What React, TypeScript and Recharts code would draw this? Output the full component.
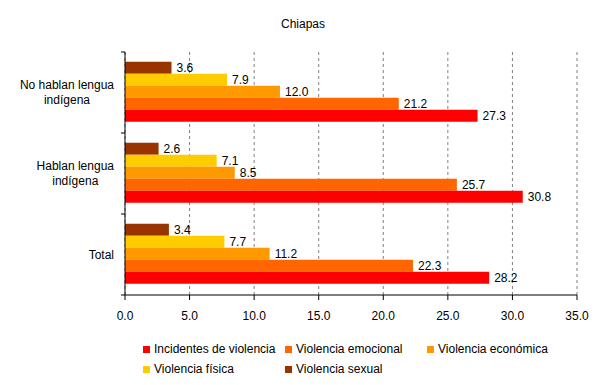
import React from 'react';
import { BarChart, Bar, XAxis, YAxis, CartesianGrid, LabelList } from 'recharts';

const categories = ['No hablan lengua indígena', 'Hablan lengua indígena', 'Total'];
const categoryLines = [['No hablan lengua', 'indígena'], ['Hablan lengua', 'indígena'], ['Total']];

const incidentes = [27.3, 30.8, 28.2];
const emocional = [21.2, 25.7, 22.3];
const economica = [12.0, 8.5, 11.2];
const fisica = [7.9, 7.1, 7.7];
const sexual = [3.6, 2.6, 3.4];

const xTicks = [0, 5, 10, 15, 20, 25, 30, 35];

// legend order; bars are drawn in reverse so "sexual" sits on top of each group
const series = [
  { key: 'incidentes', name: 'Incidentes de violencia', color: '#FF0000' },
  { key: 'emocional', name: 'Violencia emocional', color: '#FF6600' },
  { key: 'economica', name: 'Violencia económica', color: '#FF9900' },
  { key: 'fisica', name: 'Violencia física', color: '#FFCC00' },
  { key: 'sexual', name: 'Violencia sexual', color: '#993300' },
];

const data = categories.map((name, i) => ({
  name,
  incidentes: incidentes[i],
  emocional: emocional[i],
  economica: economica[i],
  fisica: fisica[i],
  sexual: sexual[i],
}));

const FONT = "'Liberation Sans', Arial, sans-serif";

let measureCtx: CanvasRenderingContext2D | null = null;
const textWidth = (s: string) => {
  if (!measureCtx) {
    measureCtx = document.createElement('canvas').getContext('2d');
    if (measureCtx) measureCtx.font = `12px ${FONT}`;
  }
  return measureCtx ? measureCtx.measureText(s).width : s.length * 6.5;
};

const CategoryTick = (props: any) => {
  const { x, y, payload, index, visibleTicksCount } = props;
  const idx = categories.indexOf(payload.value);
  const lines = categoryLines[idx] || [payload.value];
  const blockW = Math.max(...lines.map(textWidth));
  const cx = x - blockW / 2;
  const half = payload.offset || 0;
  const axisX = x + 11;
  const last = index === (visibleTicksCount ?? categories.length) - 1;
  return (
    <g>
      <line x1={axisX - 4} x2={axisX} y1={y - half} y2={y - half} stroke="#000" />
      {last && <line x1={axisX - 4} x2={axisX} y1={y + half} y2={y + half} stroke="#000" />}
      <text textAnchor="middle" fontSize={12} fontFamily={FONT} fill="#000">
        {lines.map((l, i) => (
          <tspan key={i} x={cx} y={y + 4.3 + (i - (lines.length - 1) / 2) * 15}>
            {l}
          </tspan>
        ))}
      </text>
    </g>
  );
};

export default function App() {
  return (
    <div style={{ position: 'absolute', left: 0, top: 0, width: 606, height: 385, background: '#fff', fontFamily: FONT }}>
      <div style={{ position: 'absolute', left: 0, width: 606, top: 17, textAlign: 'center', fontSize: 12, color: '#000' }}>
        Chiapas
      </div>
      <BarChart
        width={606}
        height={385}
        data={data}
        layout="vertical"
        margin={{ top: 52, right: 29, left: 0, bottom: 60 }}
        barCategoryGap="12%"
        barGap={0}
      >
        <CartesianGrid horizontal={false} vertical stroke="#808080" strokeDasharray="3 3" />
        <XAxis
          type="number"
          domain={[0, 35]}
          ticks={xTicks}
          interval={0}
          tickFormatter={(v: number) => v.toFixed(1)}
          tick={{ fontSize: 12, fill: '#000', fontFamily: FONT }}
          tickSize={5}
          tickMargin={11}
          axisLine={{ stroke: '#000' }}
          tickLine={{ stroke: '#000' }}
          height={30}
        />
        <YAxis
          type="category"
          dataKey="name"
          width={125}
          tickSize={4}
          tickMargin={7}
          tickLine={false}
          axisLine={{ stroke: '#000' }}
          tick={<CategoryTick />}
          interval={0}
        />
        {[...series].reverse().map((s) => (
          <Bar key={s.key} dataKey={s.key} name={s.name} fill={s.color} isAnimationActive={false}>
            <LabelList
              dataKey={s.key}
              position="right"
              offset={5}
              formatter={(v: number) => v.toFixed(1)}
              style={{ fontSize: 12, fill: '#000', fontFamily: FONT }}
            />
          </Bar>
        ))}
      </BarChart>
      <div
        style={{
          position: 'absolute',
          left: 143,
          top: 339,
          width: 430,
          display: 'flex',
          flexWrap: 'wrap',
          fontSize: 12,
          color: '#000',
        }}
      >
        {series.map((s) => (
          <div key={s.key} style={{ width: 142, height: 20, display: 'flex', alignItems: 'center' }}>
            <span style={{ width: 7, height: 7, background: s.color, marginRight: 4, display: 'inline-block' }} />
            <span>{s.name}</span>
          </div>
        ))}
      </div>
    </div>
  );
}
